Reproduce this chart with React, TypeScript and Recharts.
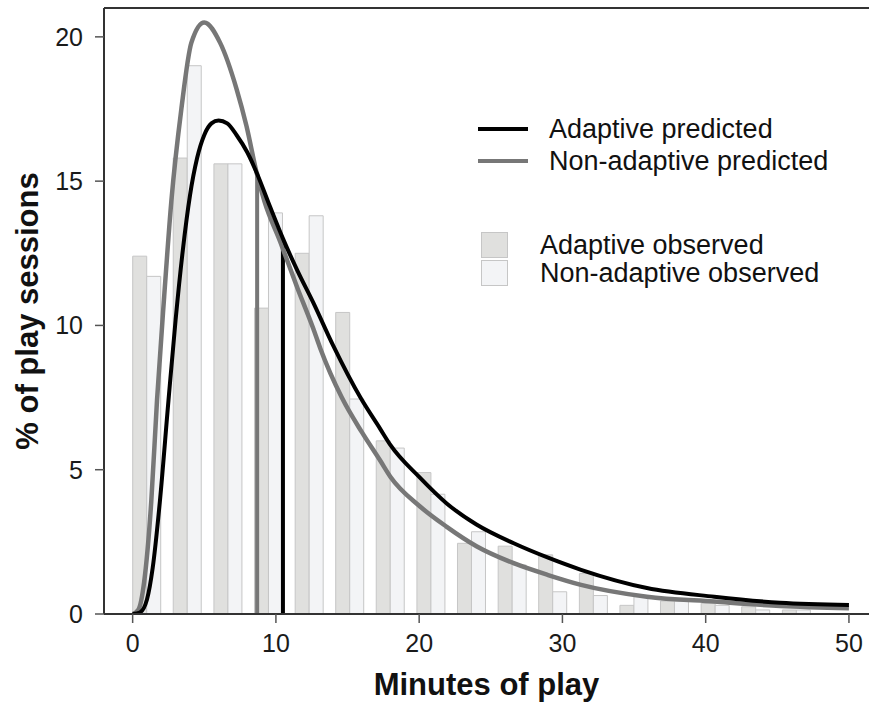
import { ComposedChart, Bar, Line, XAxis, YAxis, ReferenceLine, Legend } from 'recharts'

// histogram bins (bin centres in minutes) and observed % of sessions
const binCenters = [1.0, 3.83, 6.67, 9.5, 12.34, 15.17, 18.0, 20.84, 23.67, 26.51, 29.34, 32.18, 35.01, 37.84, 40.68, 43.51, 46.35]
const adaptiveObserved = [12.4, 15.8, 15.6, 10.6, 12.5, 10.45, 6.0, 4.9, 2.45, 2.35, 2.05, 1.4, 0.3, 0.45, 0.37, 0.25, 0.14]
const nonAdaptiveObserved = [11.7, 19.0, 15.6, 13.9, 13.8, 7.45, 5.75, 4.15, 2.85, 1.7, 0.77, 0.64, 0.6, 0.45, 0.3, 0.14, 0.14]

// fitted curves
const adaptiveMinutes = [0, 0.5, 1.0, 1.4, 1.9, 2.5, 3.0, 3.5, 4.0, 4.5, 5.0, 5.5, 6.0, 6.6, 7.25, 8.0, 8.65, 9.6, 10.5, 11.5, 12.6, 14.0, 15.9, 17.3, 18.0, 20.0, 21.9, 24.0, 26.6, 29.0, 31.3, 35.9, 40.6, 45.2, 50]
const adaptivePredicted = [0, 0.05, 0.5, 1.6, 3.9, 7.4, 10.2, 12.6, 14.5, 15.8, 16.6, 17.0, 17.1, 17.0, 16.6, 16.0, 15.3, 14.1, 13.0, 11.9, 10.8, 9.3, 7.5, 6.4, 5.85, 4.75, 3.84, 3.1, 2.45, 1.95, 1.53, 0.9, 0.6, 0.39, 0.31]

const nonAdaptiveMinutes = [0, 0.4, 0.8, 1.3, 1.7, 2.2, 2.7, 3.4, 4.1, 5.0, 6.1, 7.25, 7.95, 8.65, 9.2, 10.3, 11.5, 12.6, 13.1, 14.6, 16.0, 17.3, 18.0, 20.0, 21.9, 24.0, 26.6, 29.0, 31.3, 35.9, 40.6, 45.2, 50]
const nonAdaptivePredicted = [0, 0.15, 1.1, 3.9, 7.4, 11.0, 14.3, 17.5, 19.8, 20.5, 19.8, 18.2, 16.9, 15.3, 14.3, 12.9, 11.3, 9.9, 9.2, 7.5, 6.3, 5.3, 4.75, 3.75, 3.03, 2.35, 1.76, 1.35, 1.01, 0.6, 0.43, 0.28, 0.2]

// medians: minute and height where the drop line meets its curve
const medianMinutes = [8.69, 10.49]
const medianHeights = [15.3, 12.97]
const medianColors = ['#777777', '#000000']

const xTicks = [0, 10, 20, 30, 40, 50]
const yTicks = [0, 5, 10, 15, 20]

const FONT = '"Liberation Sans", Arial, Helvetica, sans-serif'
const BAR_STROKE = '#c6c6c6'

const barData = binCenters.map((x, i) => ({
  x,
  adaptive: adaptiveObserved[i],
  nonAdaptive: nonAdaptiveObserved[i],
}))
const adaptiveCurve = adaptiveMinutes.map((m, i) => ({ m, v: adaptivePredicted[i] }))
const nonAdaptiveCurve = nonAdaptiveMinutes.map((m, i) => ({ m, v: nonAdaptivePredicted[i] }))

const xDomain: [number, number] = [-2, 51.4]

function ChartLegend({ payload }: any) {
  const items = payload || []
  const lines = items.filter((p: any) => p.type === 'line')
  const boxes = items.filter((p: any) => p.type === 'rect')
  const text = { position: 'absolute' as const, fontSize: 27, lineHeight: '27px', color: '#111', fontFamily: FONT, whiteSpace: 'nowrap' as const }
  return (
    <div style={{ position: 'relative', width: 869, height: 704, pointerEvents: 'none' }}>
      {lines.map((p: any, i: number) => (
        <div key={p.value}>
          <div style={{ position: 'absolute', left: 478, top: 127 + i * 32, width: 50, height: 4, background: p.color }} />
          <div style={{ ...text, left: 549, top: 116 + i * 32 }}>{p.value}</div>
        </div>
      ))}
      {boxes.map((p: any, i: number) => (
        <div key={p.value}>
          <div style={{ position: 'absolute', left: 481, top: 232 + i * 28, width: 25, height: 24, background: p.color, border: `1px solid ${BAR_STROKE}` }} />
          <div style={{ ...text, left: 540, top: 232 + i * 28 }}>{p.value}</div>
        </div>
      ))}
    </div>
  )
}

export default function App() {
  return (
    <div style={{ position: 'absolute', left: 0, top: 0, background: '#fff' }}>
      <ComposedChart
        width={869}
        height={704}
        data={barData}
        margin={{ top: 8, right: 0, bottom: 0, left: 0 }}
        barGap={0}
      >
        <XAxis
          xAxisId="bars"
          dataKey="x"
          type="number"
          domain={xDomain}
          allowDataOverflow
          ticks={xTicks}
          height={90}
          tickSize={9}
          tickMargin={11}
          axisLine={{ stroke: '#333', strokeWidth: 2 }}
          tickLine={{ stroke: '#555', strokeWidth: 1.5 }}
          tick={{ fill: '#1a1a1a', fontSize: 25, fontFamily: FONT }}
          label={{
            value: 'Minutes of play',
            position: 'insideBottom',
            offset: 9,
            style: { fill: '#111', fontSize: 31, fontWeight: 'bold', fontFamily: FONT },
          }}
        />
        <XAxis xAxisId="curve" dataKey="m" type="number" domain={xDomain} allowDataOverflow hide />
        <YAxis
          type="number"
          domain={[0, 21]}
          allowDataOverflow
          ticks={yTicks}
          width={104}
          tickSize={9}
          tickMargin={12}
          axisLine={{ stroke: '#333', strokeWidth: 2 }}
          tickLine={{ stroke: '#555', strokeWidth: 1.5 }}
          tick={{ fill: '#1a1a1a', fontSize: 25, fontFamily: FONT }}
          label={{
            value: '% of play sessions',
            angle: -90,
            position: 'insideLeft',
            offset: 27,
            style: { textAnchor: 'middle', fill: '#111', fontSize: 31, fontWeight: 'bold', fontFamily: FONT },
          }}
        />
        <ReferenceLine xAxisId="bars" y={21} stroke="#333" strokeWidth={2} />
        <Bar
          xAxisId="bars"
          dataKey="adaptive"
          name="Adaptive observed"
          fill="#e0e0de"
          stroke={BAR_STROKE}
          strokeWidth={1}
          barSize={14}
          legendType="rect"
          isAnimationActive={false}
        />
        <Bar
          xAxisId="bars"
          dataKey="nonAdaptive"
          name="Non-adaptive observed"
          fill="#f3f4f6"
          stroke={BAR_STROKE}
          strokeWidth={1}
          barSize={14}
          legendType="rect"
          isAnimationActive={false}
        />
        {medianMinutes.map((m, i) => (
          <ReferenceLine
            key={m}
            xAxisId="curve"
            segment={[{ x: m, y: 0 }, { x: m, y: medianHeights[i] }]}
            stroke={medianColors[i]}
            strokeWidth={4}
          />
        ))}
        <Line
          xAxisId="curve"
          data={nonAdaptiveCurve}
          dataKey="v"
          name="Non-adaptive predicted"
          type="monotone"
          stroke="#777777"
          strokeWidth={4.5}
          dot={false}
          legendType="line"
          isAnimationActive={false}
        />
        <Line
          xAxisId="curve"
          data={adaptiveCurve}
          dataKey="v"
          name="Adaptive predicted"
          type="monotone"
          stroke="#000000"
          strokeWidth={4}
          dot={false}
          legendType="line"
          isAnimationActive={false}
        />
        <Legend
          layout="horizontal"
          verticalAlign="middle"
          align="center"
          wrapperStyle={{ left: 0, top: 0, width: 869, height: 704 }}
          content={(props: any) => {
            const order = ['Adaptive predicted', 'Non-adaptive predicted', 'Adaptive observed', 'Non-adaptive observed']
            const sorted = [...(props.payload || [])].sort((a: any, b: any) => order.indexOf(a.value) - order.indexOf(b.value))
            return <ChartLegend payload={sorted} />
          }}
        />
      </ComposedChart>
    </div>
  )
}
